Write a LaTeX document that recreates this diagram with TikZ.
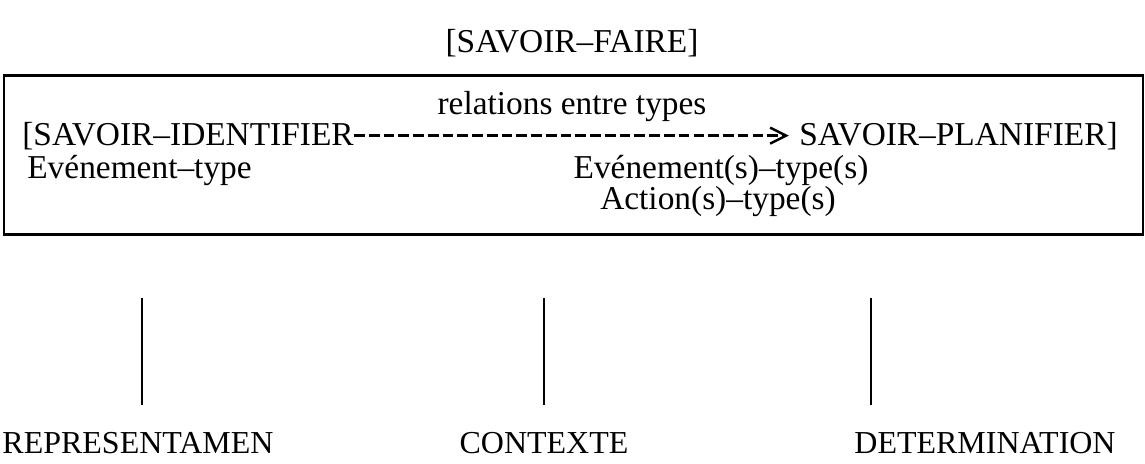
\documentclass[tikz,border=0pt]{standalone}
\usepackage{fontspec}
\setmainfont{Liberation Serif}
\usetikzlibrary{positioning, arrows.meta}
\tikzset{
  txt1/.style = {
    inner sep = 0pt,
    font = \fontsize{19}{22}\selectfont,
  }
}
\tikzset{
  lbl1/.style = {
    inner sep = 0pt,
    font = \fontsize{18.2}{20}\selectfont,
  }
}
\tikzset{
  frame1/.style = {
    shape = rectangle,
    draw = black,
    line width = 1.4pt,
    minimum width = 22.78cm,
    minimum height = 3.18cm,
  }
}
\tikzset{
  arrow1/.style = {
    draw = black, line width = 1.4pt,
    dash pattern = on 6.1pt off 2.3pt,
    -{Straight Barb[length = 3.2mm, width = 3.2mm]},
  }
}

\begin{document}
\begin{tikzpicture}[x = 0.02cm, y = -0.02cm]
        \useasboundingbox (0,0) rectangle (1145,463);
        \node[txt1, anchor = base](faire) at (572,52){[SAVOIR–FAIRE]};
        \node[frame1](frame) at (573.5,155){};
        \node[txt1, anchor = base](rel) at (572,114){relations entre types};
        \node[txt1, anchor = base west](ident) at (22,145){[SAVOIR–IDENTIFIER};
        \node[txt1, anchor = base east](plan) at (1118,145){SAVOIR–PLANIFIER]};
        \node[txt1, anchor = base west](evt) at (27,178){Evénement–type};
        \node[txt1, anchor = base](evts) at (721,178){Evénement(s)–type(s)};
        \node[txt1, anchor = base](act) at (718,209){Action(s)–type(s)};
        \draw[arrow1](ident.east) -- ([xshift = -2mm]plan.west);
        % traits verticaux
        \coordinate (a1) at (142,298);
        \coordinate (a2) at (142,405);
        \coordinate (b1) at (544,298);
        \coordinate (b2) at (544,405);
        \coordinate (c1) at (871,298);
        \coordinate (c2) at (871,405);
        \draw[line width = 0.9pt](a1) -- (a2);
        \draw[line width = 0.9pt](b1) -- (b2);
        \draw[line width = 0.9pt](c1) -- (c2);
        \node[lbl1, anchor = base](repr) at (138,453){REPRESENTAMEN};
        \node[lbl1, anchor = base](ctx) at (544,453){CONTEXTE};
        \node[lbl1, anchor = base](det) at (985,453){DETERMINATION};
    \end{tikzpicture}
\end{document}
